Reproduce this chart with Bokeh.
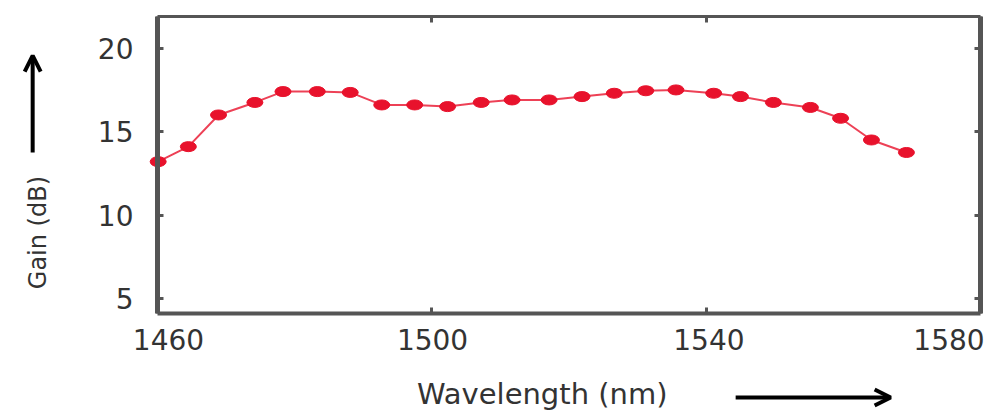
import math
from bokeh.plotting import figure
from bokeh.models import (Range1d, LinearAxis, FixedTicker, Label, Arrow, OpenHead,
                          ColumnDataSource)
from bokeh.embed import file_html
from bokeh.resources import INLINE

# ---- data ----
wavelength_nm = [1460.1, 1464.5, 1468.9, 1474.2, 1478.3, 1483.3, 1488.1, 1492.7,
                 1497.5, 1502.3, 1507.2, 1511.7, 1517.1, 1521.9, 1526.6, 1531.2,
                 1535.6, 1541.1, 1545.0, 1549.8, 1555.2, 1559.6, 1564.1, 1569.2]
gain_db = [13.2, 14.1, 16.0, 16.75, 17.4, 17.4, 17.35, 16.6,
           16.6, 16.5, 16.75, 16.9, 16.9, 17.1, 17.3, 17.45,
           17.5, 17.3, 17.1, 16.75, 16.45, 15.8, 14.5, 13.75]
x_ticks = [1460, 1500, 1540, 1580]
y_ticks = [5, 10, 15, 20]
x_title = "Wavelength (nm)"
y_title = "Gain (dB)"

FONT = "DejaVu Sans"
AXIS_COL = "#555555"
TEXT_COL = "#333333"
RED = "#e8122c"

# axes box limits (data) and the full canvas extent around them
X0, X1 = 1460, 1580
Y0, Y1 = 4.1, 21.9

p = figure(width=997, height=411, output_backend="svg", toolbar_location=None,
           x_range=Range1d(1437.11, 1582.48), y_range=Range1d(-1.774, 22.86),
           min_border=0, x_axis_location=None, y_axis_location=None)
p.background_fill_color = "white"
p.border_fill_color = "white"
p.grid.visible = False
p.outline_line_color = None


def box_axis(side, loc, ticks, bounds, width=4, labels=False, tick_in=6):
    ax = LinearAxis(ticker=FixedTicker(ticks=ticks), fixed_location=loc,
                    bounds=bounds)
    ax.axis_line_color = AXIS_COL
    ax.axis_line_width = width
    ax.major_tick_in = tick_in
    ax.major_tick_out = 0
    ax.major_tick_line_color = AXIS_COL
    ax.major_tick_line_width = 3
    ax.minor_tick_line_color = None
    if labels:
        ax.major_label_text_font = FONT
        ax.major_label_text_font_size = "28px"
        ax.major_label_text_color = TEXT_COL
    else:
        ax.major_label_text_color = None
    p.add_layout(ax, side)
    return ax


yl = box_axis("left", X0, y_ticks, (Y0, Y1), width=5, labels=True)
yl.major_label_standoff = 24
box_axis("right", X1, y_ticks, (Y0, Y1), width=5)
box_axis("above", Y1, x_ticks, (X0, X1), width=3)
box_axis("below", Y0, x_ticks, (X0, X1))

# bottom tick labels, nudged inward at the ends as in the original
label_shift = [1.6, 0.1, 0.4, -4.6]
label_pos = [t + s for t, s in zip(x_ticks, label_shift)]
xb = box_axis("below", Y0, label_pos, (X0, X1), labels=True, tick_in=0)
xb.axis_line_color = None
xb.major_tick_line_color = None
xb.major_label_overrides = {pos: str(t) for pos, t in zip(label_pos, x_ticks)}
xb.major_label_standoff = 16

src = ColumnDataSource(dict(x=wavelength_nm, y=gain_db))
p.line("x", "y", source=src, line_color=RED, line_width=2, line_alpha=0.8)
p.ellipse("x", "y", source=src, width=16, height=10, width_units="screen",
          height_units="screen", fill_color=RED, line_color=RED)

# axis titles with arrows
p.add_layout(Label(x=1516.1, y=-0.7, text=x_title, text_align="center",
                   text_baseline="middle", text_font=FONT, text_font_size="29px",
                   text_color=TEXT_COL))
p.add_layout(Arrow(x_start=1544.3, y_start=-0.93, x_end=1566.9, y_end=-0.93,
                   line_width=4, line_color="black",
                   end=OpenHead(size=16, line_width=4, line_color="black")))
p.add_layout(Label(x=1442.65, y=8.95, text=y_title, text_align="center",
                   text_baseline="middle", angle=math.pi / 2, text_font=FONT,
                   text_font_size="24px", text_color=TEXT_COL))
p.add_layout(Arrow(x_start=1441.8, y_start=13.75, x_end=1441.8, y_end=19.56,
                   line_width=4, line_color="black",
                   end=OpenHead(size=16, line_width=4, line_color="black")))

open("out.html", "w").write(file_html(p, INLINE))
